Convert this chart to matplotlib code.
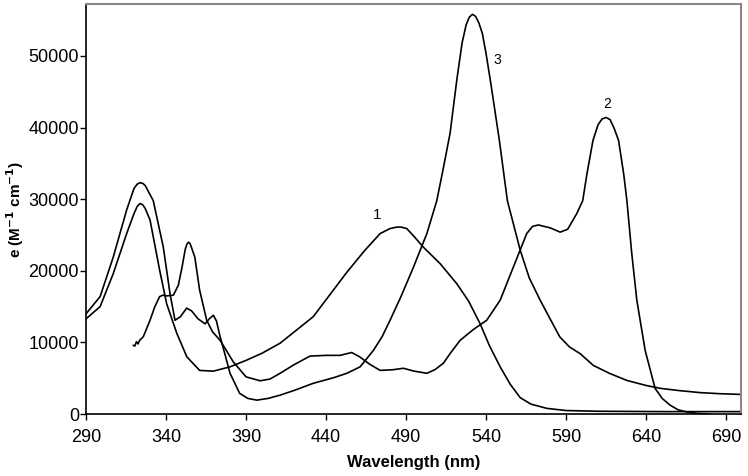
import matplotlib
matplotlib.use('Agg')
import matplotlib.pyplot as plt

# Curva 1
wl1 = [290, 298.8, 307, 315.4, 320, 322, 323.8, 325.5, 327, 330, 336, 340.4, 346.7,
       353, 361, 369.6, 380, 390, 400, 411.3, 432, 453, 464, 473.8, 480, 484.2, 487,
       490.4, 495, 500.8, 511.3, 521.7, 529, 536.3, 542, 548.8, 555, 561.3, 568, 578,
       590, 610, 650, 699]
eps1 = [13300, 15000, 19600, 25200, 28000, 29000, 29400, 29200, 28700, 27100, 20100,
        15400, 11300, 8000, 6100, 6000, 6600, 7500, 8500, 9900, 13600, 19800, 22800,
        25200, 25900, 26100, 26100, 25900, 24800, 23300, 21000, 18200, 15800, 12600,
        9600, 6600, 4200, 2300, 1400, 800, 500, 400, 350, 350]

# Curva 2
wl2 = [319.6, 320.5, 321.5, 322.5, 323.5, 325.8, 330, 333, 336, 338, 340.4, 344.6,
       347.7, 350, 352, 353, 354, 355, 356, 358, 361, 365.4, 369, 373.8, 382, 390,
       398.8, 405, 411.3, 420, 430, 440, 448.8, 456, 461, 467, 473.8, 482, 488.3, 495,
       503, 508, 513.3, 518, 523.8, 532, 540.4, 548.8, 557, 565.4, 569, 572.7, 580,
       586.3, 591, 596.7, 600.4, 603, 606.8, 610, 612.5, 615, 617.5, 620, 622.8, 626,
       628, 631, 634.2, 639.4, 645.6, 650, 655, 660, 665.4, 672, 680]
eps2 = [9600, 9500, 10100, 9800, 10300, 10800, 13100, 15000, 16400, 16600, 16500,
        16600, 18000, 20500, 23000, 23700, 24000, 23800, 23200, 21900, 17300, 13100,
        11500, 10300, 7300, 5200, 4650, 4900, 5700, 6900, 8100, 8200, 8200, 8600, 8000,
        7000, 6100, 6200, 6400, 6000, 5700, 6200, 7100, 8600, 10300, 11800, 13100,
        15900, 20500, 25200, 26200, 26400, 26000, 25400, 25800, 28000, 29800, 33500,
        38200, 40400, 41200, 41400, 41100, 39900, 38200, 33500, 29800, 22500, 15900,
        8900, 3600, 2200, 1250, 600, 300, 100, 0]

# Curva 3
wl3 = [290, 298.8, 307, 315.4, 320, 322, 323.8, 325.5, 327, 332, 338.3, 342.5, 345.6,
       349, 352.9, 356, 360, 364.4, 367, 369.6, 371.5, 373.8, 377, 380, 386, 391,
       396.7, 404, 411.3, 420, 432, 445, 453, 461.3, 469.6, 475, 480, 487, 494.6, 503,
       509.2, 513, 517.5, 521.8, 525, 527.5, 529.5, 531.5, 533.5, 535.5, 537.7, 540,
       543, 548.3, 553.3, 561.3, 567, 573.8, 580, 586, 592, 599, 607, 617, 628, 640,
       648.8, 660, 673.8, 686, 699]
eps3 = [14000, 16400, 21900, 28500, 31500, 32100, 32300, 32200, 31900, 29800, 23300,
        16800, 13100, 13600, 14800, 14400, 13300, 12600, 13300, 13800, 13000, 10800,
        8200, 5700, 2900, 2200, 1950, 2200, 2650, 3300, 4300, 5100, 5700, 6600, 8900,
        10800, 13100, 16500, 20500, 25200, 29800, 34000, 39200, 46800, 51800, 54300,
        55400, 55800, 55500, 54600, 53100, 50300, 46100, 38200, 29800, 22900, 19000,
        15900, 13300, 10800, 9400, 8400, 6800, 5700, 4700, 4000, 3600, 3300, 3000,
        2850, 2750]

xticks = [290, 340, 390, 440, 490, 540, 590, 640, 690]
yticks = [0, 10000, 20000, 30000, 40000, 50000]

plt.rcParams['font.family'] = ['Liberation Sans', 'DejaVu Sans']

fig = plt.figure(figsize=(7.48, 4.76), dpi=100)
ax = fig.add_axes([0.115, 0.130, 0.875, 0.861])

ax.plot(wl1, eps1, color='black', lw=1.2)
ax.plot(wl2, eps2, color='black', lw=1.2)
ax.plot(wl3, eps3, color='black', lw=1.2)

# Etiquetas de las curvas
ax.text(472, 26800, '1', fontsize=11, ha='center', va='bottom')
ax.text(547, 48500, '3', fontsize=10, ha='center', va='bottom')
ax.text(615.6, 42300, '2', fontsize=10, ha='center', va='bottom')

ax.set_xlim(290, 699)
ax.set_ylim(0, 57200)
ax.set_xticks(xticks)
ax.set_yticks(yticks)
ax.tick_params(labelsize=13, direction='out', length=4, width=1, colors='black')
ax.tick_params(axis='x', pad=7)
ax.tick_params(axis='y', pad=1)

for s in ['top', 'right']:
    ax.spines[s].set_color('#888888')
    ax.spines[s].set_linewidth(1.5)
for s in ['left', 'bottom']:
    ax.spines[s].set_color('black')
    ax.spines[s].set_linewidth(1.2)

ax.set_xlabel('Wavelength (nm)', fontsize=12, fontweight='bold', labelpad=6)
ax.set_ylabel('e (M$^{\\mathbf{-1}}$ cm$^{\\mathbf{-1}}$)', fontsize=11,
              fontweight='bold', labelpad=2)

fig.savefig('out.png', dpi=100)
